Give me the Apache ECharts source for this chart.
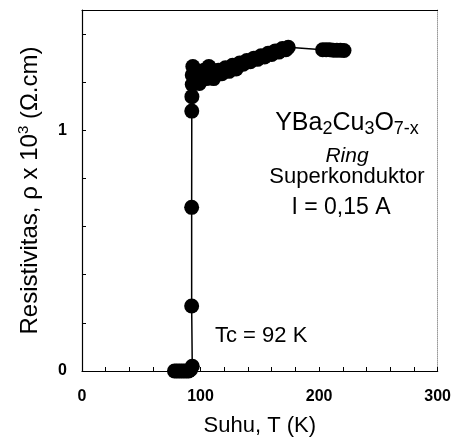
<!DOCTYPE html>
<html><head><meta charset="utf-8">
<script src="https://cdn.jsdelivr.net/npm/echarts@6/dist/echarts.min.js"></script>
<style>html,body{margin:0;padding:0;background:#fff;}#c{width:454px;height:442px;}</style>
</head><body><div id="c"></div>
<script>
// Temperature (K) and resistivity (x10^-3 ohm.cm)
const temperature = [78, 80, 82, 84, 86, 88, 90, 91.5, 93,
  92.5, 92.5, 92.6, 92.7, 93, 93, 93.5,
  95, 97, 99, 101, 103, 105, 107, 109, 111, 113, 115, 118, 121, 124, 127, 130,
  133, 136, 139, 142, 145, 148, 151, 154, 157, 160, 163, 166, 169, 172, 174,
  203, 206, 209, 212, 215, 218, 221];
const resistivity = [0, 0, 0, 0, 0, 0, 0, 0.005, 0.02,
  0.27, 0.68, 1.08, 1.14, 1.19, 1.23, 1.265,
  1.21, 1.24, 1.195, 1.225, 1.25, 1.215, 1.265, 1.225, 1.215, 1.24, 1.25, 1.235, 1.26, 1.245, 1.27, 1.255,
  1.28, 1.275, 1.29, 1.285, 1.30, 1.295, 1.31, 1.305, 1.32, 1.315, 1.33, 1.325, 1.34, 1.335, 1.345,
  1.335, 1.335, 1.335, 1.333, 1.333, 1.333, 1.332];
const xTickLabels = [0, 100, 200, 300];
const xMinorTicks = [0, 20, 40, 60, 80, 100, 120, 140, 160, 180, 200, 220, 240, 260, 280, 300];
const yTickLabels = [0, 1];
const yMinorTicks = [0, 0.2, 0.4, 0.6, 0.8, 1.0, 1.2, 1.4];

const points = temperature.map((t, i) => [t, resistivity[i]]);
const font = 'Liberation Sans, Arial, sans-serif';

const chart = echarts.init(document.getElementById('c'), null, {renderer: 'canvas'});
chart.setOption({
  animation: false,
  backgroundColor: '#fff',
  grid: {left: 82, right: 12, top: 10, bottom: 68, show: false},
  xAxis: [{
    type: 'value', min: 0, max: 300, interval: 100, position: 'bottom',
    name: 'Suhu, T (K)', nameLocation: 'middle', nameGap: 44,
    nameTextStyle: {fontFamily: font, fontSize: 22, color: '#000'},
    axisLine: {show: true, onZero: false, lineStyle: {color: '#000', width: 1.2}},
    axisTick: {show: true, inside: true, length: 4, customValues: xMinorTicks, lineStyle: {color: '#000'}},
    axisLabel: {customValues: xTickLabels, margin: 18, fontFamily: font, fontSize: 16, fontWeight: 'bold', color: '#000'},
    splitLine: {show: false}
  }, {
    type: 'value', min: 0, max: 300, position: 'top',
    axisLine: {show: true, onZero: false, lineStyle: {color: '#000', width: 1}},
    axisTick: {show: false}, axisLabel: {show: false}, splitLine: {show: false}
  }],
  yAxis: [{
    type: 'value', min: 0, max: 1.5, position: 'left',
    name: 'Resistivitas, ρ x 10{sup|3} (Ω.cm)', nameLocation: 'middle', nameGap: 37,
    nameTextStyle: {fontFamily: font, fontSize: 24, color: '#000',
      rich: {sup: {fontFamily: font, fontSize: 15, color: '#000', padding: [0, 0, 14, 0]}}},
    axisLine: {show: true, onZero: false, lineStyle: {color: '#000', width: 1.2}},
    axisTick: {show: true, inside: true, length: 4, customValues: yMinorTicks, lineStyle: {color: '#000'}},
    axisLabel: {customValues: yTickLabels, margin: 15, fontFamily: font, fontSize: 16, fontWeight: 'bold', color: '#000'},
    splitLine: {show: false}
  }, {
    type: 'value', min: 0, max: 1.5, position: 'right',
    axisLine: {show: true, onZero: false, lineStyle: {color: '#999', width: 1, type: 'dotted'}},
    axisTick: {show: false}, axisLabel: {show: false}, splitLine: {show: false}
  }],
  series: [{
    type: 'line', data: points, xAxisIndex: 0, yAxisIndex: 0,
    symbol: 'circle', symbolSize: 15, showSymbol: true,
    itemStyle: {color: '#000'},
    lineStyle: {color: '#000', width: 1.5}
  }],
  graphic: [
    {type: 'text', x: 347, y: 123, style: {
      text: '{m|YBa}{s|2}{m|Cu}{s|3}{m|O}{s|7-x}', align: 'center', verticalAlign: 'middle',
      rich: {m: {fontFamily: font, fontSize: 25, fill: '#000'},
             s: {fontFamily: font, fontSize: 18, fill: '#000', padding: [13, 0, 0, 0]}}}},
    {type: 'text', x: 347, y: 156, style: {text: 'Ring', align: 'center', verticalAlign: 'middle',
      fontFamily: font, fontSize: 21, fontStyle: 'italic', fill: '#000'}},
    {type: 'text', x: 347, y: 177, style: {text: 'Superkonduktor', align: 'center', verticalAlign: 'middle',
      fontFamily: font, fontSize: 22, fill: '#000'}},
    {type: 'text', x: 341, y: 208, style: {text: 'I = 0,15 A', align: 'center', verticalAlign: 'middle',
      fontFamily: font, fontSize: 23, fill: '#000'}},
    {type: 'text', x: 215, y: 336, style: {text: 'Tc = 92 K', align: 'left', verticalAlign: 'middle',
      fontFamily: font, fontSize: 22, fill: '#000'}}
  ]
});
</script></body></html>
